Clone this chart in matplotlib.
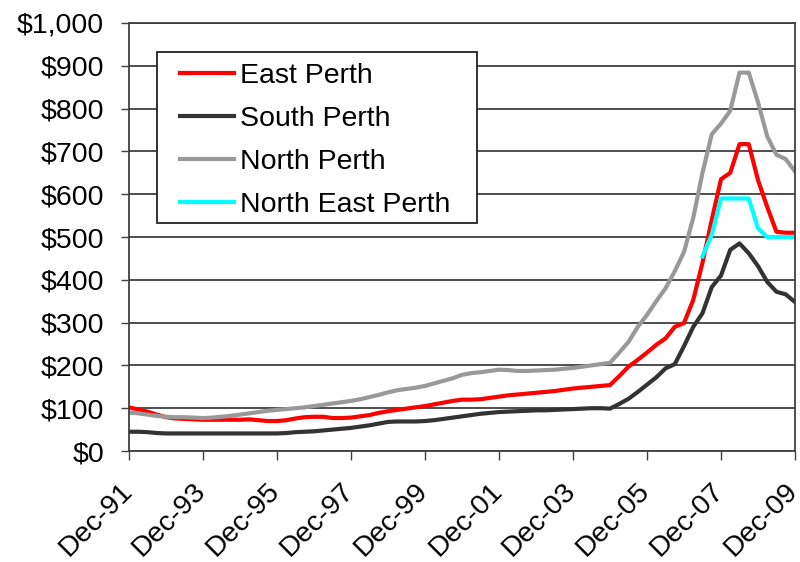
import matplotlib.pyplot as plt
import matplotlib.transforms as mtransforms
from matplotlib.patches import Rectangle
from matplotlib.ticker import FuncFormatter
import numpy as np

plt.rcParams['font.family'] = ['Liberation Sans', 'DejaVu Sans']

# Quarterly median weekly rents, Dec-91 .. Dec-09
east_perth = [
    102, 97, 92, 85, 79, 76, 75, 74, 73, 73,
    73, 73, 73, 74, 72, 70, 70, 72, 76, 79,
    80, 80, 77, 77, 78, 81, 84, 89, 93, 96,
    99, 102, 105, 109, 113, 117, 120, 120, 121, 124,
    127, 130, 132, 134, 136, 138, 140, 143, 146, 148,
    150, 152, 154, 175, 197, 213, 230, 248, 263, 290,
    299, 353, 440, 540, 635, 650, 717, 717, 633, 570,
    512, 510, 510,
]
south_perth = [
    45, 45, 44, 42, 41, 41, 41, 41, 41, 41,
    41, 41, 41, 41, 41, 41, 41, 42, 44, 45,
    46, 48, 50, 52, 54, 57, 60, 64, 68, 69,
    69, 69, 70, 72, 75, 78, 81, 84, 87, 89,
    91, 92, 93, 94, 95, 95, 96, 97, 98, 99,
    100, 100, 99, 110, 122, 138, 155, 172, 193, 203,
    245, 290, 322, 383, 410, 470, 485, 462, 432, 395,
    372, 366, 348,
]
north_perth = [
    90, 88, 85, 82, 80, 79, 79, 78, 77, 78,
    80, 82, 85, 88, 91, 94, 96, 98, 100, 102,
    105, 108, 111, 114, 117, 121, 126, 131, 137, 142,
    145, 148, 152, 158, 164, 170, 178, 182, 184, 187,
    190, 189, 187, 187, 188, 189, 190, 192, 194, 197,
    200, 203, 206, 230, 255, 290, 318, 350, 380, 420,
    465, 545, 650, 740, 765, 795, 884, 884, 815, 735,
    692, 682, 653,
]
# series only starts in 2007
north_east_perth = [np.nan] * 62 + [455, 505, 590, 590, 590, 590, 520, 500, 500, 500, 500]

tick_labels = ['Dec-91', 'Dec-93', 'Dec-95', 'Dec-97', 'Dec-99',
               'Dec-01', 'Dec-03', 'Dec-05', 'Dec-07', 'Dec-09']

grid_col = '#404040'
fs = 20.5

fig = plt.figure(figsize=(8, 5.62), dpi=100)
ax = fig.add_axes([129 / 800, 1 - 451 / 562, 666 / 800, 428 / 562])

x = np.arange(len(east_perth))
ax.plot(x, east_perth, color='#ff0000', lw=3, label='East Perth')
ax.plot(x, south_perth, color='#333333', lw=3, label='South Perth')
ax.plot(x, north_perth, color='#999999', lw=3, label='North Perth')
ax.plot(x, north_east_perth, color='#00ffff', lw=3, label='North East Perth')

ax.set_xlim(0, len(x) - 1)
ax.set_ylim(0, 1000)
ax.set_yticks(np.arange(0, 1001, 100))
ax.yaxis.set_major_formatter(FuncFormatter(lambda v, p: '${:,.0f}'.format(v)))
ax.grid(axis='y', color=grid_col, lw=1.3)
ax.set_axisbelow(True)

# x tick marks every 8 quarters; labels drawn as rotated texts hanging off them
tick_pos = x[::8]
ax.set_xticks(tick_pos)
ax.tick_params(axis='x', direction='out', length=6.5, width=1, color=grid_col,
               labelbottom=False)
off = mtransforms.ScaledTranslation(-10 / 100, -19.5 / 72, fig.dpi_scale_trans)
for xp, lab in zip(tick_pos, tick_labels):
    ax.text(xp, 0, lab, transform=ax.get_xaxis_transform() + off,
            rotation=45, rotation_mode='anchor', ha='right', va='top',
            fontsize=fs, clip_on=False)

ax.tick_params(axis='y', direction='out', length=6, width=1, color=grid_col,
               labelsize=fs, pad=12)
for s in ax.spines.values():
    s.set_color(grid_col)
    s.set_linewidth(1.3)

# legend box with its own frame
box = Rectangle((157 / 800, 1 - 223 / 562), 320 / 800, 171 / 562,
                transform=fig.transFigure, facecolor='white', edgecolor='#222222',
                lw=1.3, zorder=4, clip_on=False)
ax.add_patch(box)
leg = ax.legend(loc='upper left', bbox_to_anchor=(180 / 800, 1 - 63 / 562),
                bbox_transform=fig.transFigure, frameon=False, fontsize=fs,
                borderpad=0, borderaxespad=0, handlelength=1.9,
                handletextpad=0.2, labelspacing=0.6)
leg.set_zorder(5)

fig.savefig('out.png', dpi=100)
